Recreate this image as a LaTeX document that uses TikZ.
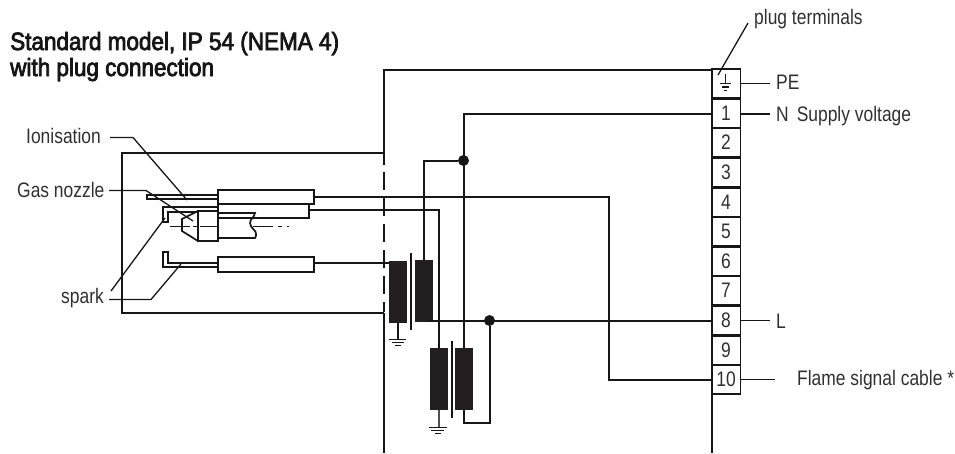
\documentclass[tikz,border=0pt]{standalone}
\usepackage{fontspec}
\setmainfont[FakeStretch=0.83]{Liberation Sans}
\newfontfamily\titlefont[FakeStretch=0.90,FakeBold=3]{Liberation Sans}
\definecolor{ink}{HTML}{161616}
\definecolor{coilfill}{HTML}{231F20}
\definecolor{txt}{HTML}{303030}
\begin{document}
\begin{tikzpicture}[x=1pt,y=-1pt,
  wire/.style={draw=ink,line width=2pt,line join=miter},
  thin wire/.style={draw=ink,line width=1.3pt},
  cell/.style={draw=ink,line width=1.9pt,minimum width=29pt,minimum height=29.6pt,inner sep=0pt,outer sep=0pt,text=txt,font=\fontsize{21}{22}\selectfont},
  coil/.style={draw=none,fill=coilfill,minimum width=18pt,minimum height=62pt,inner sep=0pt,outer sep=0pt},
  sleeve/.style={draw=ink,line width=1.7pt,fill=white,inner sep=0pt,outer sep=0pt},
  lbl/.style={text=txt,font=\fontsize{21}{22}\selectfont,inner sep=0pt,anchor=west},
  ttl/.style={text=ink,font=\titlefont\fontsize{25}{25}\selectfont,inner sep=0pt,anchor=base west},
  dot/.style={circle,fill=ink,minimum size=11pt,inner sep=0pt,outer sep=0pt}]
\useasboundingbox (0,0) rectangle (955,453);
% enclosures
\coordinate (encTL) at (383.5,69.5);
\coordinate (encBL) at (383.5,453);
\coordinate (encTR) at (711.5,69.5);
\coordinate (encBR) at (711.5,453);
\draw[wire] (encBL) -- (383.5,312.5);
\draw[wire] (encTR) -- (encTL) -- (383.5,165);
\draw[wire,dash pattern=on 18pt off 8pt] (383.5,172) -- (383.5,312);
\draw[wire] (encTR) -- (encBR);
\draw[wire] (383.5,152.5) -- (121.5,152.5) -- (121.5,312.5) -- (383.5,312.5);
% terminals
\foreach \i/\t in {0/{},1/1,2/2,3/3,4/4,5/5,6/6,7/7,8/8,9/9,10/10}{
  \node[cell] (t\i) at (726,{floor(83.6+29.6*\i)+0.5}) {\t};
}
\draw[thin wire] (725.5,74) -- (725.5,83);
\draw[line width=1.2pt,draw=ink] (719.5,83.5) -- (731,83.5) (721.5,87) -- (729,87);
\draw[line width=1.4pt,draw=ink] (723.5,90.5) -- (727,90.5);
% coils
\node[coil] (c1) at (398,292) {};
\node[coil] (c2) at (423.5,291) {};
\node[coil] (c3) at (438.5,379) {};
\node[coil] (c4) at (463.5,379) {};
\node[dot] (j1) at (463.5,160.5) {};
\node[dot] (j2) at (489.5,320.5) {};
% electrodes
\draw[wire,line width=1.7pt] (218,195) -- (147,195) -- (147,199) -- (218,199);
\draw[wire,line width=1.7pt] (218,207) -- (163,207) -- (163,222) -- (168,222) -- (168,212) -- (198,212);
\draw[wire,line width=1.7pt] (218,263) -- (168,263) -- (168,252) -- (163,252) -- (163,267) -- (218,267);
\node[sleeve,minimum width=91pt,minimum height=14pt] (s2) at (263.5,211) {};
\node[sleeve,minimum width=96pt,minimum height=14.5pt] (s1) at (266,197) {};
\node[sleeve,minimum width=96pt,minimum height=15pt] (s3) at (266,264.5) {};
% nozzle
\node[sleeve,minimum width=20pt,minimum height=30pt] (nz) at (208,226) {};
\draw[wire,line width=1.7pt] (198,211) -- (182,219) -- (182,231) -- (198,241);
\draw[wire,line width=1.7pt] (218,213) -- (255,213) .. controls (254,218) and (250,219) .. (250,223) .. controls (250,228) and (257,231) .. (256,234) .. controls (256,236) and (256,237) .. (255,238) -- (218,238);
\draw[wire,line width=1.7pt] (170,226.5) -- (190,226.5) (193,226.5) -- (197,226.5) (200,226.5) -- (218,226.5);
\draw[wire,line width=1.7pt] (253,226.5) -- (273,226.5) (278,226.5) -- (282,226.5) (287,226.5) -- (289,226.5);
% wires
\draw[wire] (s1.east |- 0,196.5) -- (608.5,196.5) |- (t10.west);
\draw[wire] (s2.east |- 0,209.5) -- (438.5,209.5) -- (c3.north);
\draw[wire] (s3.east |- 0,262.5) -- (c1.west |- 0,262.5);
\draw[wire] (c2.north) |- (j1);
\draw[wire] (c4.north) |- (t1.west);
\draw[wire] (428,320.5) -- (t8.west);
\draw[wire] (j2) -- (489.5,422.5) -- (463.5,422.5) -- (c4.south);
\draw[wire] (410.5,253) -- (410.5,330);
\draw[wire] (451.5,341) -- (451.5,418);
% grounds
\draw[thin wire] (c1.south) -- (398,339);
\draw[thin wire] (389,339.5) -- (406,339.5) (392,342.5) -- (404,342.5);
\draw[line width=1.4pt,draw=ink] (395,345.5) -- (401,345.5);
\draw[wire,draw=ink!75] (c3.south) -- (438.5,427);
\draw[thin wire] (429,427.5) -- (447,427.5) (431,430.5) -- (444,430.5);
\draw[line width=1.4pt,draw=ink] (435,433.5) -- (441,433.5);
% labels
\node[ttl] (title1) at (10,50) {Standard model, IP 54 (NEMA 4)};
\node[ttl] (title2) at (10,76) {with plug connection};
\node[lbl] (ion) at (26,136) {Ionisation};
\node[lbl] (gas) at (17,190) {Gas nozzle};
\node[lbl] (spk) at (61,298) {spark};
\node[lbl] (plug) at (754,19) {plug terminals};
\node[lbl] (pe) at (776,82) {PE};
\node[lbl] (nn) at (776,116) {N\hspace{8pt}Supply voltage};
\node[lbl] (ll) at (776,321) {L};
\node[lbl] (flame) at (797,380) {Flame signal cable *};
% leaders
\draw[thin wire] (110,137.5) -- (133,137.5) -- (187,200);
\draw[thin wire] (109,190.5) -- (146,190.5) -- (193,221);
\draw[thin wire] (109,299.5) -- (151,299.5) -- (181,264);
\draw[thin wire] (111,291) -- (165,218);
\draw[thin wire] (748,23) -- (718,75);
\draw[thin wire] (t0.east) -- (770,83.5);
\draw[wire] (t1.east) -- (770,113.5);
\draw[thin wire] (t8.east) -- (770,320.5);
\draw[thin wire] (t10.east) -- (775,379.5);
\end{tikzpicture}
\end{document}
